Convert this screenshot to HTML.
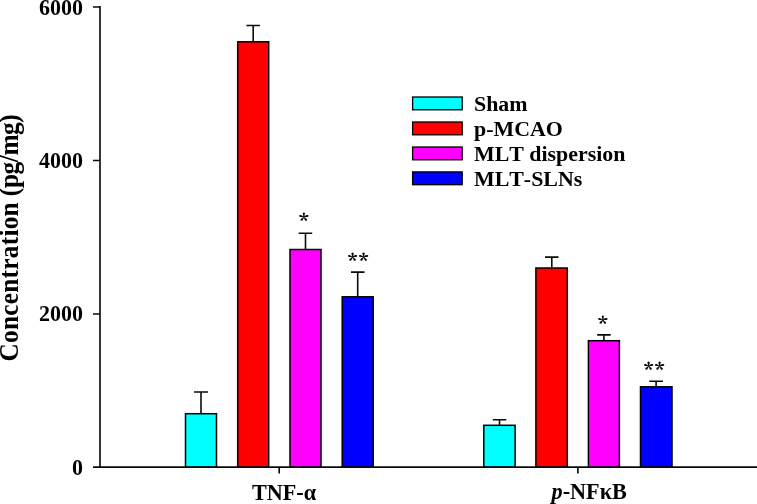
<!DOCTYPE html>
<html>
<head>
<meta charset="utf-8">
<title>Concentration chart</title>
<style>
html,body{margin:0;padding:0;background:#fff;}
body{width:757px;height:504px;overflow:hidden;}
svg{display:block;}
text{font-family:"Liberation Serif","DejaVu Serif",serif;font-weight:bold;fill:#000;font-kerning:none;}
.ax{stroke:#0a0a0a;stroke-width:1.65;fill:none;}
.bar{stroke:#000;stroke-width:1.5;}
.err{stroke:#0a0a0a;stroke-width:1.6;fill:none;}
.sw{stroke-width:1.3;}
.tick{font-size:22px;}
.star{font-family:"Noto Serif CJK SC","Liberation Serif",serif;font-weight:bold;font-size:20px;letter-spacing:1.3px;stroke:#000;stroke-width:0.3px;}
.leg{font-size:21.9px;}
</style>
</head>
<body>
<svg width="757" height="504" viewBox="0 0 757 504">
<rect x="0" y="0" width="757" height="504" fill="#fff"/>

<!-- error bars (behind bars) -->
<g class="err">
<path d="M201 413V392M194 392H208"/>
<path d="M253.2 41V25.5M246.4 25.5H260"/>
<path d="M305.5 249V233.3M298.7 233.3H312.2"/>
<path d="M357.7 296V272.1M351 272.1H364.5"/>
<path d="M499.5 425V419.8M492.8 419.8H506.3"/>
<path d="M551.8 267V257.1M545 257.1H558.5"/>
<path d="M603.9 340V334.9M597.2 334.9H610.7"/>
<path d="M656.1 386V381.3M649.3 381.3H662.9"/>
</g>

<!-- bars group 1 -->
<rect class="bar" x="185.5" y="413.7" width="31" height="53.5" fill="#00ffff"/>
<rect class="bar" x="237.7" y="41.8" width="31" height="425.4" fill="#ff0000"/>
<rect class="bar" x="290" y="249.5" width="31" height="217.7" fill="#ff00ff"/>
<rect class="bar" x="342.2" y="296.8" width="31" height="170.4" fill="#0000ff"/>
<!-- bars group 2 -->
<rect class="bar" x="483.8" y="425.3" width="31.3" height="41.9" fill="#00ffff"/>
<rect class="bar" x="535.9" y="268" width="31.4" height="199.2" fill="#ff0000"/>
<rect class="bar" x="588.4" y="340.7" width="31" height="126.5" fill="#ff00ff"/>
<rect class="bar" x="640.5" y="386.8" width="31.5" height="80.4" fill="#0000ff"/>

<!-- axes -->
<path class="ax" d="M100 6V467"/>
<path class="ax" d="M93 467.1H757"/>
<path class="ax" d="M93 7H100M93 160.5H100M93 314H100"/>
<path class="ax" d="M279.2 467V473.6M577.9 467V473.6"/>

<!-- y tick labels -->
<text class="tick" transform="translate(83 15.2) scale(1 1.06)" text-anchor="end">6000</text>
<text class="tick" transform="translate(83 167.9) scale(1 1.06)" text-anchor="end">4000</text>
<text class="tick" transform="translate(83 321.4) scale(1 1.06)" text-anchor="end">2000</text>
<text class="tick" transform="translate(83 474.9) scale(1 1.06)" text-anchor="end">0</text>

<!-- y axis title -->
<text transform="translate(18 361.5) rotate(-90) scale(1 1.04)" text-anchor="start" font-size="25.3"><tspan letter-spacing="0.27">Concentration</tspan><tspan letter-spacing="-0.4"> (pg/mg)</tspan></text>

<!-- x labels -->
<text class="tick" transform="translate(284 499.6) scale(1.01 1.06)" text-anchor="middle">TNF-α</text>
<text class="tick" transform="translate(589.2 499.3) scale(1.01 1.06)" text-anchor="middle"><tspan font-style="italic">p</tspan>-NFκB</text>

<!-- significance stars -->
<text class="star" transform="translate(304.5 227.5) scale(1 0.92)" text-anchor="middle">*</text>
<text class="star" transform="translate(358.8 268.3) scale(1 0.92)" text-anchor="middle">**</text>
<text class="star" transform="translate(603.4 331.4) scale(1 0.92)" text-anchor="middle">*</text>
<text class="star" transform="translate(654.7 376.5) scale(1 0.92)" text-anchor="middle">**</text>

<!-- legend -->
<rect class="bar sw" x="412.6" y="97.0" width="49.6" height="12.8" fill="#00ffff"/>
<rect class="bar sw" x="412.6" y="122.0" width="49.6" height="12.8" fill="#ff0000"/>
<rect class="bar sw" x="412.6" y="147.0" width="49.6" height="12.8" fill="#ff00ff"/>
<rect class="bar sw" x="412.6" y="171.9" width="49.6" height="12.8" fill="#0000ff"/>
<text class="leg" x="474" y="110.9">Sham</text>
<text class="leg" x="474" y="135.8">p-MCAO</text>
<text class="leg" x="474" y="160.9">MLT dispersion</text>
<text class="leg" x="474" y="185.7">MLT-SLNs</text>
</svg>
</body>
</html>
